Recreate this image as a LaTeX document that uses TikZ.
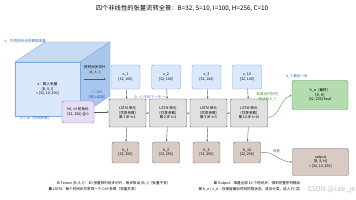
\documentclass[tikz,border=0pt]{standalone}
\usepackage{fontspec}
\setmainfont{Noto Sans CJK SC}
\usetikzlibrary{arrows.meta}
\definecolor{xfill}{HTML}{DAE8FC}
\definecolor{xline}{HTML}{7EA6E0}
\definecolor{cubetop}{HTML}{C6DAF4}
\definecolor{cubeside}{HTML}{A9C6EC}
\definecolor{labblue}{HTML}{3366CC}
\definecolor{cellfill}{HTML}{E0E0E0}
\definecolor{cellline}{HTML}{555555}
\definecolor{hfill}{HTML}{D8CBC6}
\definecolor{hline}{HTML}{8A6A5C}
\definecolor{gfill}{HTML}{B4DCB0}
\definecolor{gline}{HTML}{4F9A46}
\definecolor{pfill}{HTML}{E6DDF6}
\definecolor{pline}{HTML}{9673D6}
\tikzset{
  tiny/.style={font=\fontsize{3.6}{4.6}\selectfont},
  xbox/.style={draw=xline, fill=xfill, rounded corners=1.5pt, minimum width=29pt, minimum height=24pt, align=center, tiny},
  cellbox/.style={draw=cellline, fill=cellfill, rounded corners=1pt, minimum width=37pt, minimum height=28pt, align=center, tiny},
  hbox/.style={draw=hline, fill=hfill, rounded corners=1.5pt, minimum width=27pt, minimum height=21pt, align=center, tiny},
  down/.style={-{Latex[length=2pt,width=2pt]}, cellline},
  pass/.style={-{Latex[length=2pt,width=2pt]}, pline}
}
\begin{document}
\begin{tikzpicture}[x=1pt,y=-1pt]
  \useasboundingbox[fill=white] (0,0) rectangle (356,200);
  \node[font=\fontsize{6.3}{7}\selectfont] (title) at (182,8) {四个非线性的张量流转全景：B=32, S=10, I=100, H=256, C=10};
  \node[tiny, labblue, anchor=west] (tlab) at (1,41) {x：不同时间步的数据堆叠};
  % input tensor as a cube
  \fill[cubetop, draw=xline, line width=0.3pt] (15,62) -- (45,42) -- (110,42) -- (80,62) -- cycle;
  \fill[cubeside, draw=xline, line width=0.3pt] (80,62) -- (110,42) -- (110,96) -- (80,116) -- cycle;
  \node[draw=xline, fill=xfill, line width=0.3pt, minimum width=65pt, minimum height=54pt, align=center, tiny] (cube) at (47.5,89)
    {x：输入张量\\{}[B, S, I]\\= [32, 10, 100]};
  \node[tiny, labblue] (slab) at (36,118) {S = 10（时间步数）};
  \node[tiny, align=center] (cut) at (95,70) {按时间步切片\\x[:, t, :]};
  \coordinate (cutl) at (84,79);
  \coordinate (cutr) at (106,79);
  \draw[down] (cutl) -- (cutr);
  \node[tiny, labblue, align=center] (ilab) at (97,95) {I = 100\\（输入维度）};
  % initial state
  \node[draw=pline, fill=pfill, rounded corners=1.5pt, minimum width=32pt, minimum height=22pt, align=center, tiny] (h0) at (78,112)
    {h0, c0 初始化\\{}[32, 256] 全 0};
  % time steps
  \foreach \i/\cx/\t in {1/125.5/1, 2/166/2, 3/206.5/3, 4/247/10} {
    \node[xbox] (x\i) at (\cx,77) {x\_\t\\{}[32, 100]};
    \node[cellbox] (cell\i) at (\cx+2,113) {LSTM 单元\\（共享参数）\\第 \t\ 步 t=\t};
    \node[hbox] (h\i) at (\cx,152.5) {h\_\t\\{}[32, 256]};
    \draw[down] (x\i) -- (cell\i);
    \draw[down] (cell\i) -- (h\i);
  }
  \draw[down] (h0.east) -- (h0.east -| cell1.west);
  \foreach \i/\j in {1/2, 2/3, 3/4} \draw[pass] (cell\i) -- (cell\j);
  \node[tiny, pline] (plab) at (150,97) {(h, c) 传给下一步 →};
  % final hidden state
  \node[draw=gline, fill=gfill, rounded corners=2pt, minimum width=56pt, minimum height=29pt, align=center, tiny] (hn) at (320,95)
    {h\_n（最终）\\{}[B, H]\\{}[32, 256] final};
  \node[tiny, labblue] (hnlab) at (297,76) {h\_T 最后一步};
  \draw[-{Latex[length=2pt,width=2pt]}, gline] ([yshift=-5pt]cell4.east) to[out=10, in=200] node[tiny, gline, align=center, above left, pos=0.6] {取最后时刻的\\隐状态 h\_T} (hn.west);
  % stacked output
  \node[draw=hline, fill=hfill, rounded corners=2pt, minimum width=56pt, minimum height=27pt, align=center, tiny] (out) at (320.5,162)
    {output\\{}[B, S, H]\\= [32, 10, 256]};
  \draw[-{Latex[length=2pt,width=2pt]}, hline] (h4.east) to[out=10, in=180] node[tiny, above, pos=0.5] {堆叠} (out.west);
  % legend
  \node[tiny, anchor=west] (lg1) at (53,183) {\textcolor{xline}{■} Tensor [B, S, I]：3D 张量按时间步切片，每步取出 [B, I]（批量不变）};
  \node[tiny, anchor=west] (lg2) at (45,189) {\textcolor{cellline}{■} LSTM：每个时间步共享同一个 Cell 参数（权重共享）};
  \node[tiny, anchor=west] (lg3) at (210,183) {\textcolor{hline}{■} Output：堆叠全部 10 个时间步，得到完整序列输出};
  \node[tiny, anchor=west] (lg4) at (195,189) {\textcolor{gline}{■} h\_n / c\_n：仅保留最后时刻的隐状态，适合分类，送入 FC 层};
  \node[font=\fontsize{7}{8}\selectfont, black!25, anchor=west] (wm) at (304,190) {CSDN @Lee\_je};
\end{tikzpicture}
\end{document}
